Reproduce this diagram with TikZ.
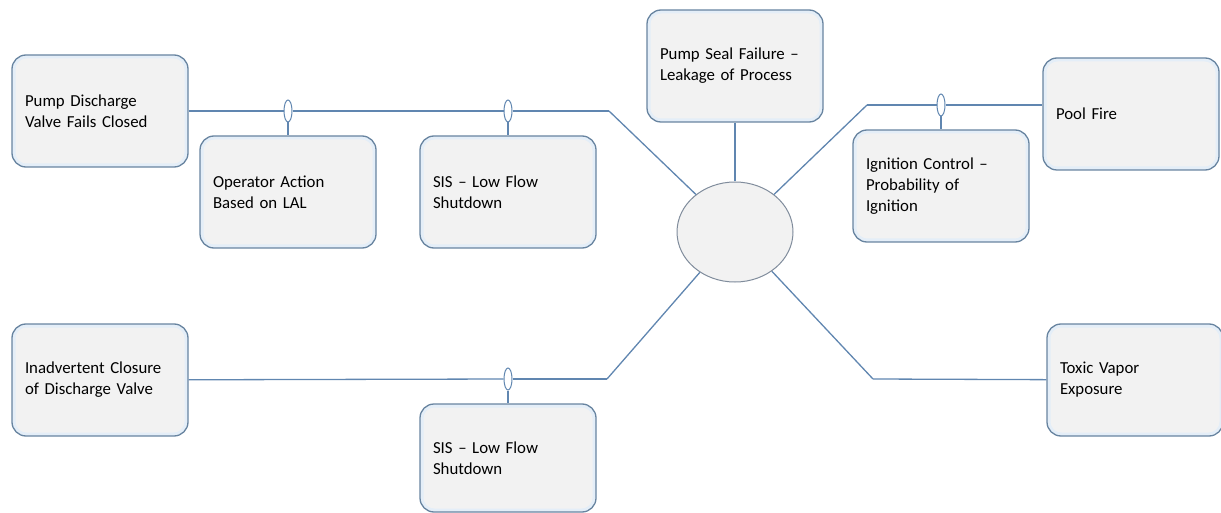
\documentclass[tikz,border=0pt]{standalone}
\usepackage{fontspec}
\setmainfont{Carlito}
\usetikzlibrary{shapes.geometric}
\definecolor{lnblue}{RGB}{96,134,176}
\definecolor{bxedge}{RGB}{104,132,160}
\definecolor{bxfill}{RGB}{242,242,242}
\definecolor{bxglow}{RGB}{228,238,248}
\definecolor{evedge}{RGB}{128,140,156}
\tikzset{blk/.style={draw=bxedge, line width=1.3pt, fill=bxglow, rounded corners=14pt, minimum width=176pt, minimum height=112pt, text width=150pt, inner xsep=13pt, align=left, font=\fontsize{16.8}{21}\selectfont,
  path picture={\fill[bxfill, rounded corners=11pt] ([shift={(3.5pt,-3.5pt)}]path picture bounding box.north west) rectangle ([shift={(-3.5pt,3.5pt)}]path picture bounding box.south east);}},
  bar/.style={ellipse, draw=lnblue, fill=white, line width=1pt, minimum width=8pt, minimum height=22pt, inner sep=0pt},
  con/.style={draw=lnblue, line width=1.3pt}}

\begin{document}
\begin{tikzpicture}[x=1pt, y=-1pt]
\useasboundingbox (0,0) rectangle (1221,513);
% threats and consequences
\node[blk] (pdv) at (100,111) {Pump Discharge\\Valve Fails Closed};
\node[blk] (inc) at (100,380) {Inadvertent Closure\\of Discharge Valve};
\node[blk] (psf) at (735,66) {Pump Seal Failure --\\Leakage of Process};
\node[blk] (pf) at (1131,114) {Pool Fire};
\node[blk, minimum width=170pt] (tve) at (1135,380) {Toxic Vapor\\Exposure};
% barriers
\node[blk] (opa) at (288,192) {Operator Action\\Based on LAL};
\node[blk] (s1) at (508,192) {SIS -- Low Flow\\Shutdown};
\node[blk] (ign) at (941,186) {Ignition Control --\\Probability of\\Ignition};
\node[blk, minimum height=108pt] (s2) at (508,458) {SIS -- Low Flow\\Shutdown};
% top event
\node[ellipse, draw=evedge, line width=1pt, fill=bxfill, minimum width=116pt, minimum height=100pt] (ev) at (735,232) {};
\node[bar] (b1) at (288,111) {};
\node[bar] (b2) at (508,111) {};
\node[bar] (b3) at (941,105) {};
\node[bar] (b4) at (508,379) {};
\coordinate (t1) at (609,111);
\coordinate (t2) at (867,105);
\coordinate (t3) at (607,379);
\coordinate (t4) at (873,379);
\draw[con] (pdv) edge (b1) (b1) edge (b2) (b2) edge (t1) (t1) edge (ev)
  (b1) edge (opa) (b2) edge (s1)
  (inc) edge (b4) (b4) edge (t3) (t3) edge (ev) (b4) edge (s2)
  (psf) edge (ev)
  (ev) edge (t2) (t2) edge (b3) (b3) edge (b3 -| pf.west) (b3) edge (ign)
  (ev) edge (t4) (t4) edge (tve);
\end{tikzpicture}
\end{document}
